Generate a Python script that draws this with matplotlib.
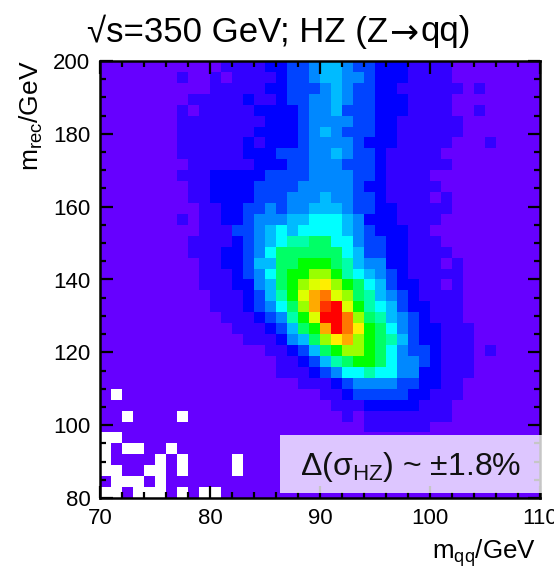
import numpy as np
import matplotlib
matplotlib.use("Agg")
import matplotlib.pyplot as plt
from matplotlib.colors import ListedColormap
from matplotlib.patches import Rectangle
from matplotlib.ticker import MultipleLocator

plt.rcParams["font.family"] = ["Liberation Sans", "DejaVu Sans"]
plt.rcParams["mathtext.fontset"] = "custom"
plt.rcParams["mathtext.rm"] = "Liberation Sans"
plt.rcParams["mathtext.default"] = "regular"

# colour level per bin, top row first, '.' = empty bin
# m_qq 70-90 GeV
LEVELS_LEFT = [
    "00000000000111122334", "00000001001011112334", "00000000001111122333",
    "00000000111112112334", "00000001011111222234", "00000001111111122234",
    "00000001111111222234", "00000001111112122234", "00000001111112223334",
    "00000000111111222334", "00000001112222233334", "00000000112222333344",
    "00000000112222333444", "00000000011223343445", "00000001011223444556",
    "00000000011133456566", "00000000111123456778", "00000000111223468888",
    "00000000011223558899", "0000000001112346899a", "000000000111224589ab",
    "000000000011123579bd", "000000000011123468ad", "0000000000011123479b",
    "00000000000011123589", "00000000000001112458", "00000000000000011235",
    "00000000000000001123", "00000000000000001112", "00000000000000000011",
    "0.000000000000000000", "00000000000000000000", "00.0000.000000000000",
    "00000000000000000000", "..000000000000000000", ".0..00.0000000000000",
    ".0000.0.0000.0000000", "..00..0.0000.0000000", "0...0.00000000000000",
    "..0...0.0..000000000",
]
# m_qq 90-110 GeV
LEVELS_RIGHT = [
    "55433222111100000000", "55443222111100000000", "45433221111110100000",
    "45433222111100000000", "45333222111100100000", "44433221111110000000",
    "54333221111110000000", "44432221111100010000", "45433211111000000000",
    "44333211111100000000", "44433211110000000000", "44432211111000000000",
    "54433211110100000000", "55433221111100000000", "66542221111000000000",
    "66543222110000000000", "86643322111000000000", "88653322111100000000",
    "98754422111010000000", "a9765432111110000000", "ca986532211010000000",
    "eba87543211110000000", "fgb97653221110000000", "ggea8754321110000000",
    "dgec9864322111000000", "acda9875322111000000", "89aa9864332111010000",
    "57899864432111000000", "34667664422111000000", "12344443322110000000",
    "11233333221110000000", "01112222211100000000", "00101111111100000000",
    "00001111110000000000", "00000000000000000000", "00000000000000000000",
    "00000000000000000000", "00000000000000000000", "00000000000000000000",
    "00000000000000000000",
]
PALETTE = ["#6600ff", "#3300ff", "#0000ff", "#0044ff", "#0088ff", "#00bbff",
           "#00ffff", "#00ffaa", "#00ff66", "#00ff00", "#99ff00", "#ddff00",
           "#ffee00", "#ffaa00", "#ff7700", "#ff3300", "#ff0000"]
X_EDGES = np.arange(70, 111, 1)
Y_EDGES = np.arange(80, 201, 3)
X_TICKS = [70, 80, 90, 100, 110]
Y_TICKS = [80, 100, 120, 140, 160, 180, 200]


def to_grid():
    rows = []
    for left, right in zip(LEVELS_LEFT, LEVELS_RIGHT):
        text = left + right
        rows.append([np.nan if c == "." else int(c, 17) for c in text])
    # first string is the top row, the y axis runs upward
    return np.array(rows)[::-1]


W, H = 554, 574
fig = plt.figure(figsize=(W / 100, H / 100), dpi=100)
ax = fig.add_axes([100 / W, 1 - 498 / H, 440 / W, 437 / H])
ax.set_facecolor("white")

grid = np.ma.masked_invalid(to_grid())
ax.pcolormesh(X_EDGES, Y_EDGES, grid, cmap=ListedColormap(PALETTE),
              vmin=-0.5, vmax=16.5, antialiased=False, linewidth=0)

ax.set_xlim(70, 110)
ax.set_ylim(80, 200)
ax.set_xticks(X_TICKS)
ax.set_yticks(Y_TICKS)
ax.xaxis.set_minor_locator(MultipleLocator(2))
ax.yaxis.set_minor_locator(MultipleLocator(5))
ax.tick_params(which="both", direction="in", top=True, right=True, width=1.6, color="black")
ax.tick_params(which="major", length=9, labelsize=16, pad=7)
ax.tick_params(which="minor", length=4.5)
for spine in ax.spines.values():
    spine.set_linewidth(1.8)

# title in three parts, the arrow is bigger than the Liberation one
title_y = 1 - 32 / H
fig.text(388 / W, title_y, "√s=350 GeV; HZ (Z", fontsize=25, ha="right", va="center")
fig.text(404 / W, title_y, "→", fontsize=25, ha="center", va="center", family="DejaVu Sans")
fig.text(420 / W, title_y, "qq)", fontsize=25, ha="left", va="center")

fig.text(536 / W, 1 - 553 / H, r"m$_{\mathrm{qq}}$/GeV", fontsize=18.7, ha="right", va="center")
fig.text(31 / W, 1 - 60 / H, r"m$_{\mathrm{rec}}$/GeV", fontsize=19, rotation=90,
         ha="center", va="top")

# label box sits over the frame as well, ticks show through it
box = Rectangle((86.36, 81.4), 23.8, 15.9, facecolor="white", edgecolor="none",
                alpha=0.78, zorder=5, clip_on=False)
ax.add_patch(box)
ax.text(98.2, 88.4, "Δ(σ$_{\\mathrm{HZ}}$) ~ ±1.8%", fontsize=23, ha="center", va="center",
        color="#111111", zorder=6)

fig.savefig("out.png", dpi=100)
